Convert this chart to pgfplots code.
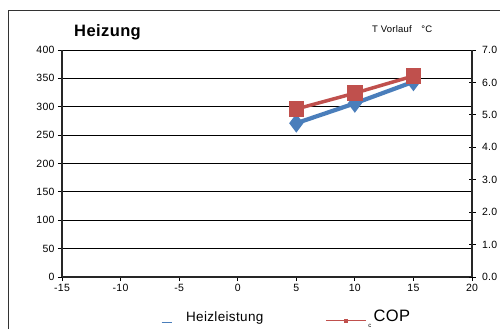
\documentclass[border=0pt]{standalone}
\usepackage{fontspec}
\setmainfont{Liberation Sans}
\newfontfamily\wfont[LetterSpace=2.5]{Liberation Sans}
\usepackage{pgfplots}
\pgfplotsset{compat=1.18}
\definecolor{hblue}{RGB}{74,126,187}
\definecolor{cred}{RGB}{192,80,77}
\begin{document}
\begin{tikzpicture}[x=1pt,y=1pt]
\useasboundingbox (0,0) rectangle (500,329);
\draw[black!80, line width=0.8pt] (8,0) -- (8,319) -- (500,319);
\node[font=\wfont\bfseries\fontsize{16.5}{18}\selectfont, anchor=west, inner sep=0pt] at (74,297) {Heizung};
\node[font=\wfont\fontsize{9.5}{11}\selectfont, anchor=west, inner sep=0pt] at (372,300) {T Vorlauf\quad °C};

\begin{axis}[
  at={(62pt,52pt)}, anchor=south west, scale only axis, width=410pt, height=227pt,
  xmin=-15, xmax=20, ymin=0, ymax=400,
  xtick={-15,-10,...,20}, ytick={0,50,...,400},
  axis x line*=bottom, axis y line*=left,
  axis line style={line width=1.8pt, black!85, -},
  ymajorgrids, grid style={black, line width=0.9pt},
  tick style={black, line width=0.9pt}, tick align=outside, major tick length=4pt,
  tick label style={font=\wfont\fontsize{10.5}{12}\selectfont},
  /pgf/number format/assume math mode=true,
  clip=false,
]
\addplot[hblue, line width=4.2pt, mark=diamond*, mark size=6pt] coordinates {(5,271) (10,306) (15,344)};
\end{axis}

\begin{axis}[
  at={(62pt,52pt)}, anchor=south west, scale only axis, width=410pt, height=227pt,
  xmin=-15, xmax=20, ymin=0, ymax=7,
  ytick={0,1,...,7},
  axis x line=none, axis y line*=right,
  axis line style={line width=1.8pt, black!85, -},
  tick style={black, line width=0.9pt}, tick align=center, major tick length=7pt,
  tick label style={font=\wfont\fontsize{10.5}{12}\selectfont},
  yticklabel style={xshift=3pt, /pgf/number format/.cd, fixed, fixed zerofill, precision=1},
  /pgf/number format/assume math mode=true,
  clip=false,
  legend style={at={(0.234,-0.125)}, anchor=north west, draw=none, fill=none,
    legend columns=2, font=\wfont\fontsize{13.5}{15}\selectfont,
    /tikz/every even column/.append style={column sep=60pt}},
]
\addlegendimage{legend image code/.code={\draw[hblue,line width=1pt] (0pt,-5pt) -- (10pt,-5pt);}}
\addlegendentry{\hspace{12pt}Heizleistung}
\addplot[cred, line width=3.5pt, mark=square*, mark size=6pt,
  legend image code/.code={\draw[cred,line width=1pt] (0pt,-3pt) -- (40pt,-3pt); \fill[cred,draw=none] (18pt,-5pt) rectangle (22pt,-1pt);}]
  coordinates {(5,5.18) (10,5.67) (15,6.2)};
\addlegendentry{\raisebox{-3pt}{\fontsize{6}{6}\selectfont c}\,\raisebox{3pt}{\fontsize{16.5}{18}\selectfont COP}}
\end{axis}
\end{tikzpicture}
\end{document}
